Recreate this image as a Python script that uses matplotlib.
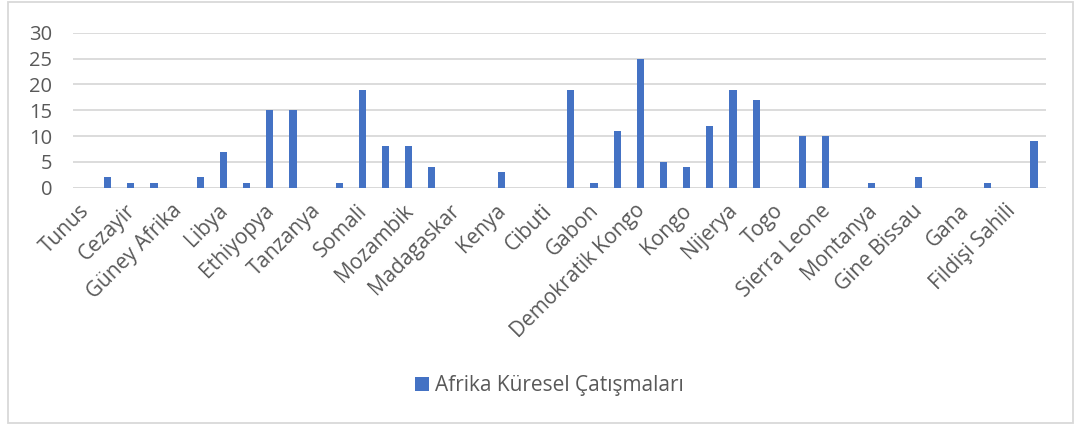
import matplotlib
matplotlib.use('Agg')
import matplotlib.pyplot as plt
import matplotlib.transforms as mtransforms
from matplotlib.patches import Rectangle
import numpy as np

# every second category carries a visible label (Excel skips the rest)
labels = ['Tunus', 'Cezayir', 'Güney Afrika', 'Libya', 'Ethiyopya', 'Tanzanya',
          'Somali', 'Mozambik', 'Madagaskar', 'Kenya', 'Cibuti', 'Gabon',
          'Demokratik Kongo', 'Kongo', 'Nijerya', 'Togo', 'Sierra Leone',
          'Montanya', 'Gine Bissau', 'Gana', 'Fildişi Sahili']
values = [0, 2, 1, 1, 0, 2, 7, 1, 15, 15,
          0, 1, 19, 8, 8, 4, 0, 0, 3, 0,
          0, 19, 1, 11, 25, 5, 4, 12, 19, 17,
          0, 10, 10, 0, 1, 0, 2, 0, 0, 1,
          0, 9]
series_name = 'Afrika Küresel Çatışmaları'
yticks = [0, 5, 10, 15, 20, 25, 30]

plt.rcParams['font.family'] = ['Open Sans', 'DejaVu Sans']
text_col = '#595959'
grid_col = '#D9D9D9'

fig = plt.figure(figsize=(10.75, 4.25), dpi=100)
ax = fig.add_axes([0.0679, 0.5584, 0.9047, 0.3646])

x = np.arange(len(values))
ax.bar(x, values, width=0.31, color='#4472C4', label=series_name, zorder=3)

ax.set_xlim(-0.5, len(values) - 0.5)
ax.set_ylim(0, 30)
ax.set_yticks(yticks)
ax.yaxis.grid(True, color=grid_col, linewidth=1.3, zorder=0)
for s in ax.spines.values():
    s.set_visible(False)
ax.axhline(0, color=grid_col, linewidth=1.3, zorder=1)

ax.tick_params(axis='y', length=0, pad=15, labelsize=14.5, labelcolor=text_col)
ax.tick_params(axis='x', length=0, pad=9, labelsize=15, labelcolor=text_col)

ax.set_xticks(x[::2])
ax.set_xticklabels(labels, rotation=45, ha='right', va='top', rotation_mode='anchor')
shift = mtransforms.ScaledTranslation(-0.06, 0, fig.dpi_scale_trans)
for lab in ax.get_xticklabels():
    lab.set_transform(lab.get_transform() + shift)

fig.legend(loc='center', bbox_to_anchor=(0.511, 0.092), frameon=False,
           handlelength=0.65, handleheight=0.65, handletextpad=0.3,
           fontsize=15, labelcolor=text_col)

# chart area border
fig.patches.append(Rectangle((8 / 1075, 2 / 425), 1065 / 1075, 421 / 425,
                             transform=fig.transFigure, fill=False,
                             edgecolor=grid_col, linewidth=1.3))

fig.savefig('out.png', dpi=100)
plt.close(fig)
